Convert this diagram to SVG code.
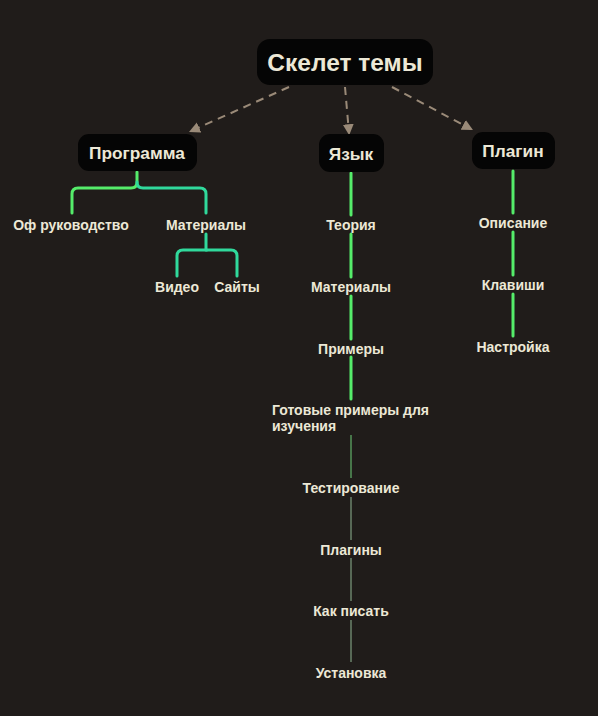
<svg xmlns="http://www.w3.org/2000/svg" width="598" height="716" viewBox="0 0 598 716">
<defs>
<style>
.bg{fill:#201c1a}
.node rect{fill:#050505}
.t{font-family:"Liberation Sans",Arial,sans-serif;font-weight:bold;fill:#ece8d6;text-anchor:middle}
.root{font-size:24.5px}
.main{font-size:17.3px}
.leaf{font-size:14px}
.dash{stroke:#9a8a78;stroke-width:2;stroke-dasharray:8,6;fill:none}
.g{stroke:#55ec6a;stroke-width:3;fill:none;stroke-linecap:round}
.tl{stroke:#30d99c;stroke-width:3;fill:none;stroke-linecap:round}
.thin{stroke:#8fb592;stroke-width:1;fill:none}
</style>
<marker id="ah" viewBox="0 0 10 10" refX="8" refY="5" markerWidth="5.5" markerHeight="5.5" orient="auto">
<path d="M0,0 L10,5 L0,10 z" fill="#9a8a78"/>
</marker>
</defs>
<rect class="bg" x="0" y="0" width="598" height="716"/>
<g id="connectors">
<path class="dash" d="M289,87 L191,131" marker-end="url(#ah)"/>
<path class="dash" d="M345,87 L349,133" marker-end="url(#ah)"/>
<path class="dash" d="M392,87 L471,129" marker-end="url(#ah)"/>
<path class="g" d="M137,172 V182 Q137,188 131,188 H78 Q72,188 72,194 V213"/>
<path class="tl" d="M137,182 Q137,188 143,188 H200 Q206,188 206,194 V213"/>
<path class="tl" d="M206,234 V250 H183 Q177,250 177,256 V276"/>
<path class="tl" d="M206,250 H231 Q237,250 237,256 V276"/>
<path class="g" d="M351,173 V215"/>
<path class="g" d="M351,234 V277"/>
<path class="g" d="M351,296 V339"/>
<path class="g" d="M351,357 V399"/>
<path class="thin" d="M351,435 V478" style="stroke:#6fcf78"/>
<path class="thin" d="M351,497 V540"/>
<path class="thin" d="M351,558 V601"/>
<path class="thin" d="M351,620 V662"/>
<path class="g" d="M513,171 V213"/>
<path class="g" d="M513,232 V275"/>
<path class="g" d="M513,294 V336"/>
</g>
<g id="n-root" class="node"><rect x="257" y="39" width="176" height="46" rx="13"/><text class="t root" x="345" y="71">Скелет темы</text></g>
<g id="n-prog" class="node"><rect x="78" y="134" width="119" height="37" rx="11"/><text class="t main" x="137" y="159">Программа</text></g>
<g id="n-lang" class="node"><rect x="319" y="134" width="65" height="38" rx="11"/><text class="t main" x="351" y="160">Язык</text></g>
<g id="n-plug" class="node"><rect x="472" y="132" width="83" height="37" rx="11"/><text class="t main" x="513" y="157">Плагин</text></g>
<g id="n-of"><text class="t leaf" x="71" y="230">Оф руководство</text></g>
<g id="n-mat1"><text class="t leaf" x="206" y="230">Материалы</text></g>
<g id="n-video"><text class="t leaf" x="177" y="292">Видео</text></g>
<g id="n-sites"><text class="t leaf" x="237" y="292">Сайты</text></g>
<g id="n-theory"><text class="t leaf" x="351" y="230">Теория</text></g>
<g id="n-mat2"><text class="t leaf" x="351" y="292">Материалы</text></g>
<g id="n-ex"><text class="t leaf" x="351" y="354">Примеры</text></g>
<g id="n-ready"><text class="t leaf" x="272" y="415" style="text-anchor:start">Готовые примеры для</text><text class="t leaf" x="272" y="431" style="text-anchor:start">изучения</text></g>
<g id="n-test"><text class="t leaf" x="351" y="493">Тестирование</text></g>
<g id="n-plugins"><text class="t leaf" x="351" y="555">Плагины</text></g>
<g id="n-how"><text class="t leaf" x="351" y="616">Как писать</text></g>
<g id="n-install"><text class="t leaf" x="351" y="678">Установка</text></g>
<g id="n-desc"><text class="t leaf" x="513" y="228">Описание</text></g>
<g id="n-keys"><text class="t leaf" x="513" y="290">Клавиши</text></g>
<g id="n-setup"><text class="t leaf" x="513" y="352">Настройка</text></g>
</svg>
